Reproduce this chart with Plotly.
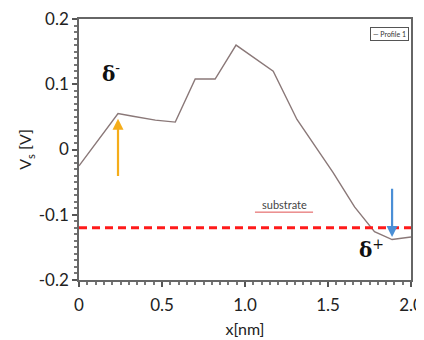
import plotly.graph_objects as go

x_nm = [0.0, 0.235, 0.325, 0.46, 0.58, 0.70, 0.82, 0.946, 1.17, 1.313, 1.53, 1.66, 1.78, 1.886, 2.0]
vs = [-0.025, 0.055, 0.051, 0.045, 0.042, 0.108, 0.108, 0.160, 0.120, 0.046, -0.035, -0.088, -0.126, -0.138, -0.134]

substrate_level = -0.12
x_ticks = [0, 0.5, 1.0, 1.5, 2.0]
x_ticklabels = ["0", "0.5", "1.0", "1.5", "2.0"]
y_ticks = [-0.2, -0.1, 0, 0.1, 0.2]
y_ticklabels = ["-0.2", "-0.1", "0", "0.1", "0.2"]

font_main = "Lato, Open Sans, sans-serif"

fig = go.Figure()
fig.add_trace(go.Scatter(x=x_nm, y=vs, mode="lines", name="Profile 1",
                         line=dict(color="#8a7878", width=1.4), showlegend=False))

fig.add_shape(type="line", x0=0, x1=2.0, y0=substrate_level, y1=substrate_level,
              xref="x", yref="y", line=dict(color="#ff1a1a", width=3, dash="8px,5px"))

# underline of "substrate"
fig.add_shape(type="line", x0=1.06, x1=1.41, y0=-0.096, y1=-0.096,
              xref="x", yref="y", line=dict(color="#e05050", width=1))

ann = []
ann.append(dict(x=0.235, y=0.047, ax=0.235, ay=-0.043, xref="x", yref="y", axref="x", ayref="y",
                text="", showarrow=True, arrowhead=2, arrowsize=1, arrowwidth=2.2, arrowcolor="#f5ad1a"))
ann.append(dict(x=1.886, y=-0.134, ax=1.886, ay=-0.058, xref="x", yref="y", axref="x", ayref="y",
                text="", showarrow=True, arrowhead=2, arrowsize=1, arrowwidth=2.2, arrowcolor="#4a8fd6"))
ann.append(dict(x=0.19, y=0.118, xref="x", yref="y", text="<b>δ</b><sup>-</sup>", showarrow=False,
                font=dict(family="DejaVu Serif, serif", size=20, color="#111")))
ann.append(dict(x=1.76, y=-0.152, xref="x", yref="y", text="<b>δ</b><sup>+</sup>", showarrow=False,
                font=dict(family="DejaVu Serif, serif", size=20, color="#111")))
ann.append(dict(x=1.235, y=-0.085, xref="x", yref="y", text="substrate", showarrow=False,
                font=dict(family=font_main, size=11, color="#444")))
ann.append(dict(x=0.993, y=0.97, xref="paper", yref="paper", xanchor="right", yanchor="top",
                text="— Profile 1", showarrow=False, bordercolor="#555", borderwidth=1, borderpad=2,
                bgcolor="white", font=dict(family=font_main, size=7, color="#333")))

# the page body adds an 8px margin, so the figure is sized to fit the 424x340 window
fig.update_layout(
    width=416, height=332,
    margin=dict(l=71, r=13, t=11, b=60),
    paper_bgcolor="white", plot_bgcolor="white",
    annotations=ann,
    font=dict(family=font_main, size=16, color="#222"),
    xaxis=dict(range=[0, 2.0], tickvals=x_ticks, ticktext=x_ticklabels, automargin=False,
               ticklabeloverflow="allow", ticklabelstandoff=4,
               showgrid=False, zeroline=False, showline=True, linecolor="#666", linewidth=1.5,
               mirror=True, ticks="outside", ticklen=5, tickcolor="#555", tickwidth=1.5,
               minor=dict(dtick=0.05, ticks="outside", ticklen=3, tickcolor="#777"),
               title=dict(text="x[nm]", standoff=10, font=dict(size=16)),
               tickfont=dict(size=17)),
    yaxis=dict(range=[-0.2, 0.2], tickvals=y_ticks, ticktext=y_ticklabels, automargin=False,
               ticklabeloverflow="allow",
               showgrid=False, zeroline=False, showline=True, linecolor="#666", linewidth=1.5,
               mirror=True, ticks="outside", ticklen=5, tickcolor="#555", tickwidth=1.5,
               minor=dict(dtick=0.01, ticks="outside", ticklen=3, tickcolor="#777"),
               title=dict(text="V<sub>s</sub> [V]", standoff=3, font=dict(size=16)),
               tickfont=dict(size=17)),
)

fig.write_html("out.html")
